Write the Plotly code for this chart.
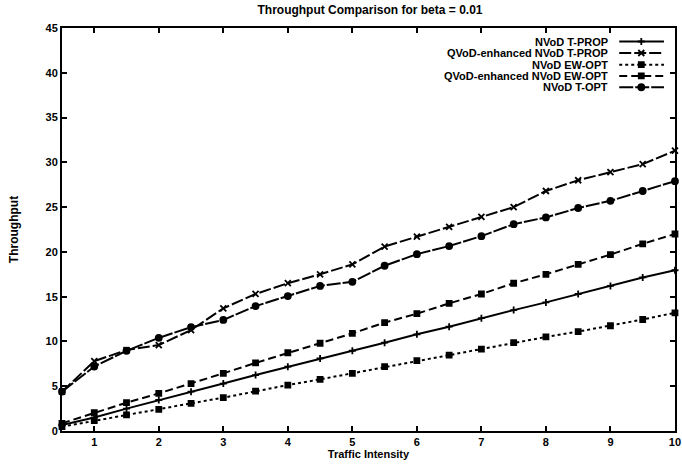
import plotly.graph_objects as go

x_vals = [0.5, 1, 1.5, 2, 2.5, 3, 3.5, 4, 4.5, 5, 5.5, 6, 6.5, 7, 7.5, 8, 8.5, 9, 9.5, 10]

series_names = ["NVoD T-PROP", "QVoD-enhanced NVoD T-PROP", "NVoD EW-OPT",
                "QVoD-enhanced NVoD EW-OPT", "NVoD T-OPT"]

t_prop = [0.67, 1.5, 2.5, 3.46, 4.39, 5.3, 6.25, 7.18, 8.1, 8.96,
          9.86, 10.8, 11.65, 12.6, 13.5, 14.36, 15.3, 16.2, 17.15, 17.95]
qvod_t_prop = [4.39, 7.8, 9.04, 9.6, 11.27, 13.7, 15.3, 16.5, 17.5, 18.6,
               20.6, 21.7, 22.8, 23.9, 25.0, 26.8, 28.0, 28.9, 29.8, 31.3]
ew_opt = [0.48, 1.15, 1.79, 2.42, 3.09, 3.72, 4.46, 5.13, 5.77, 6.44,
          7.18, 7.85, 8.48, 9.15, 9.86, 10.5, 11.1, 11.75, 12.45, 13.2]
qvod_ew_opt = [0.86, 2.04, 3.16, 4.2, 5.3, 6.44, 7.6, 8.74, 9.8, 10.9,
               12.1, 13.1, 14.25, 15.3, 16.5, 17.5, 18.6, 19.7, 20.9, 22.0]
t_opt = [4.4, 7.2, 8.96, 10.4, 11.6, 12.4, 13.95, 15.07, 16.2, 16.66,
         18.45, 19.75, 20.65, 21.76, 23.1, 23.85, 24.9, 25.7, 26.8, 27.9]

x_ticks = [1, 2, 3, 4, 5, 6, 7, 8, 9, 10]
y_ticks = [0, 5, 10, 15, 20, 25, 30, 35, 40, 45]

all_series = [t_prop, qvod_t_prop, ew_opt, qvod_ew_opt, t_opt]
styles = [
    dict(dash="solid", symbol="cross-thin-open", size=5),
    dict(dash="12px,3px", symbol="x-thin-open", size=6),
    dict(dash="dot", symbol="square", size=5),
    dict(dash="8px,4px", symbol="square", size=5),
    dict(dash="14px,2px", symbol="circle", size=6),
]

FONT = "Liberation Sans, Arial, sans-serif"
fig = go.Figure()

for name, ys, st in zip(series_names, all_series, styles):
    fig.add_trace(go.Scatter(
        x=x_vals, y=ys, mode="lines+markers", name=name, showlegend=False,
        line=dict(color="black", width=2, dash=st["dash"]),
        marker=dict(symbol=st["symbol"], size=st["size"], color="black",
                    line=dict(color="black", width=1.8)),
        cliponaxis=False,
    ))

# custom gnuplot-style legend (text right, sample on the right)
leg_y = [0.9665, 0.938, 0.909, 0.881, 0.853]
for name, st, ly in zip(series_names, styles, leg_y):
    fig.add_trace(go.Scatter(
        x=[0.909, 0.982], y=[ly, ly], xaxis="x2", yaxis="y2", mode="lines",
        showlegend=False, hoverinfo="skip",
        line=dict(color="black", width=2, dash=st["dash"])))
    fig.add_trace(go.Scatter(
        x=[0.945], y=[ly], xaxis="x2", yaxis="y2", mode="markers",
        showlegend=False, hoverinfo="skip",
        marker=dict(symbol=st["symbol"], size=st["size"], color="black",
                    line=dict(color="black", width=1.8))))
    fig.add_annotation(x=0.8945, y=ly, xref="paper", yref="paper",
                       text="<b>" + name + "</b>",
                       showarrow=False, xanchor="right", yanchor="middle",
                       font=dict(family=FONT, size=11, color="black"))

fig.update_layout(
    width=682, height=466,
    margin=dict(l=62, r=7, t=28, b=35),
    paper_bgcolor="white", plot_bgcolor="white",
    font=dict(family=FONT, color="black"),
    title=dict(text="<b>Throughput Comparison for beta = 0.01</b>", x=0.5425,
               xanchor="center", y=0.978, yanchor="middle",
               font=dict(family=FONT, size=12, color="black")),
    xaxis=dict(range=[0.5, 10.0005], tickvals=x_ticks, ticks="inside", ticklen=5,
               tickwidth=1.5, tickcolor="black", mirror="allticks", showline=True,
               linecolor="black", linewidth=2, showgrid=False, zeroline=False,
               automargin=False, ticklabeloverflow="allow",
               tickfont=dict(family=FONT, size=11, color="black", weight="bold"),
               title=dict(text="<b>Traffic Intensity</b>", standoff=0,
                          font=dict(family=FONT, size=11, color="black"))),
    yaxis=dict(range=[0, 45], tickvals=y_ticks, ticks="inside", ticklen=5,
               tickwidth=1.5, tickcolor="black", mirror="allticks", showline=True,
               linecolor="black", linewidth=2, showgrid=False, zeroline=False,
               automargin=False,
               tickfont=dict(family=FONT, size=11, color="black", weight="bold"),
               title=dict(text="<b>Throughput</b>", standoff=24,
                          font=dict(family=FONT, size=12, color="black"))),
    xaxis2=dict(range=[0, 1], overlaying="x", visible=False, showgrid=False),
    yaxis2=dict(range=[0, 1], overlaying="y", visible=False, showgrid=False),
)

fig.write_html("out.html")
